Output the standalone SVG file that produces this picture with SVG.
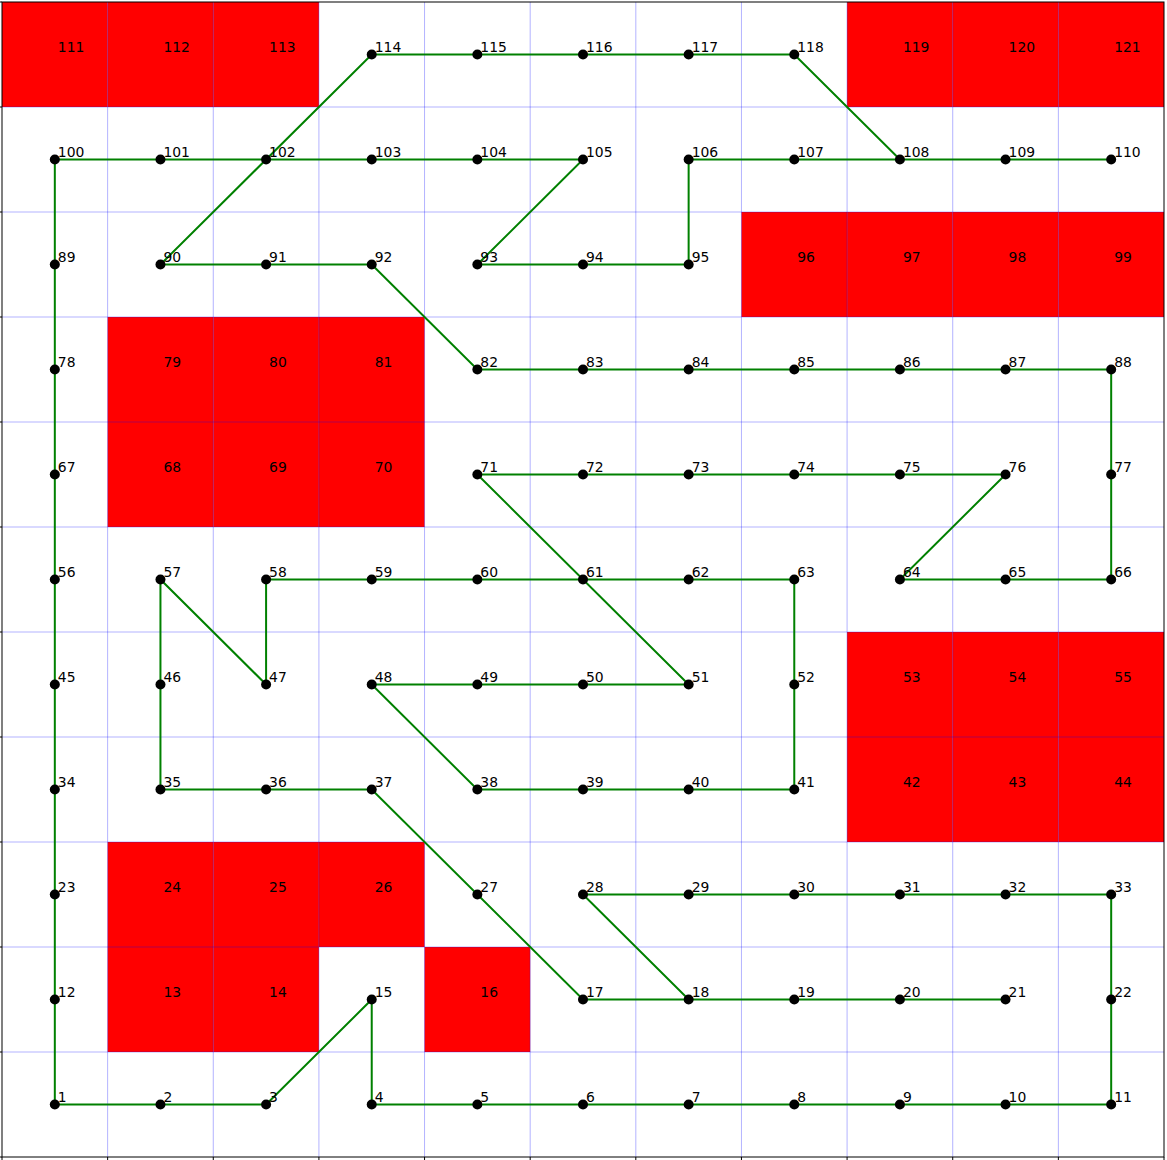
<svg xmlns="http://www.w3.org/2000/svg" width="1167" height="1160" viewBox="0 0 1167 1160">
<style>
.obs{fill:#ff0000;stroke:none}
.grid line{stroke:#0000ff;stroke-opacity:0.3;stroke-width:1}
.edge{fill:none;stroke:#008000;stroke-width:2;stroke-linejoin:miter}
.node circle{fill:#000000}
text{font-family:"DejaVu Sans","Liberation Sans",sans-serif;font-size:13.9px;fill:#000000}
.tick line{stroke:#000;stroke-width:1}
</style>
<rect x="0" y="0" width="1167" height="1160" fill="#ffffff"/>
<g id="obstacles">
<rect class="obs" x="107.64" y="947" width="105.64" height="105"/>
<rect class="obs" x="213.27" y="947" width="105.64" height="105"/>
<rect class="obs" x="424.55" y="947" width="105.64" height="105"/>
<rect class="obs" x="107.64" y="842" width="105.64" height="105"/>
<rect class="obs" x="213.27" y="842" width="105.64" height="105"/>
<rect class="obs" x="318.91" y="842" width="105.64" height="105"/>
<rect class="obs" x="847.09" y="737" width="105.64" height="105"/>
<rect class="obs" x="952.73" y="737" width="105.64" height="105"/>
<rect class="obs" x="1058.36" y="737" width="105.64" height="105"/>
<rect class="obs" x="847.09" y="632" width="105.64" height="105"/>
<rect class="obs" x="952.73" y="632" width="105.64" height="105"/>
<rect class="obs" x="1058.36" y="632" width="105.64" height="105"/>
<rect class="obs" x="107.64" y="422" width="105.64" height="105"/>
<rect class="obs" x="213.27" y="422" width="105.64" height="105"/>
<rect class="obs" x="318.91" y="422" width="105.64" height="105"/>
<rect class="obs" x="107.64" y="317" width="105.64" height="105"/>
<rect class="obs" x="213.27" y="317" width="105.64" height="105"/>
<rect class="obs" x="318.91" y="317" width="105.64" height="105"/>
<rect class="obs" x="741.45" y="212" width="105.64" height="105"/>
<rect class="obs" x="847.09" y="212" width="105.64" height="105"/>
<rect class="obs" x="952.73" y="212" width="105.64" height="105"/>
<rect class="obs" x="1058.36" y="212" width="105.64" height="105"/>
<rect class="obs" x="2" y="2" width="105.64" height="105"/>
<rect class="obs" x="107.64" y="2" width="105.64" height="105"/>
<rect class="obs" x="213.27" y="2" width="105.64" height="105"/>
<rect class="obs" x="847.09" y="2" width="105.64" height="105"/>
<rect class="obs" x="952.73" y="2" width="105.64" height="105"/>
<rect class="obs" x="1058.36" y="2" width="105.64" height="105"/>
</g>
<g class="grid">
<line x1="107.64" y1="2" x2="107.64" y2="1157"/>
<line x1="213.27" y1="2" x2="213.27" y2="1157"/>
<line x1="318.91" y1="2" x2="318.91" y2="1157"/>
<line x1="424.55" y1="2" x2="424.55" y2="1157"/>
<line x1="530.18" y1="2" x2="530.18" y2="1157"/>
<line x1="635.82" y1="2" x2="635.82" y2="1157"/>
<line x1="741.45" y1="2" x2="741.45" y2="1157"/>
<line x1="847.09" y1="2" x2="847.09" y2="1157"/>
<line x1="952.73" y1="2" x2="952.73" y2="1157"/>
<line x1="1058.36" y1="2" x2="1058.36" y2="1157"/>
<line x1="2" y1="107" x2="1164" y2="107"/>
<line x1="2" y1="212" x2="1164" y2="212"/>
<line x1="2" y1="317" x2="1164" y2="317"/>
<line x1="2" y1="422" x2="1164" y2="422"/>
<line x1="2" y1="527" x2="1164" y2="527"/>
<line x1="2" y1="632" x2="1164" y2="632"/>
<line x1="2" y1="737" x2="1164" y2="737"/>
<line x1="2" y1="842" x2="1164" y2="842"/>
<line x1="2" y1="947" x2="1164" y2="947"/>
<line x1="2" y1="1052" x2="1164" y2="1052"/>
</g>
<rect x="2" y="2" width="1162" height="1155" fill="none" stroke="#000" stroke-width="1"/>
<g class="tick">
<line x1="-3" y1="2" x2="2" y2="2"/><line x1="-3" y1="107" x2="2" y2="107"/><line x1="-3" y1="212" x2="2" y2="212"/><line x1="-3" y1="317" x2="2" y2="317"/><line x1="-3" y1="422" x2="2" y2="422"/><line x1="-3" y1="527" x2="2" y2="527"/><line x1="-3" y1="632" x2="2" y2="632"/><line x1="-3" y1="737" x2="2" y2="737"/><line x1="-3" y1="842" x2="2" y2="842"/><line x1="-3" y1="947" x2="2" y2="947"/><line x1="-3" y1="1052" x2="2" y2="1052"/><line x1="-3" y1="1157" x2="2" y2="1157"/>
<line x1="2" y1="1157" x2="2" y2="1162"/><line x1="107.64" y1="1157" x2="107.64" y2="1162"/><line x1="213.27" y1="1157" x2="213.27" y2="1162"/><line x1="318.91" y1="1157" x2="318.91" y2="1162"/><line x1="424.55" y1="1157" x2="424.55" y2="1162"/><line x1="530.18" y1="1157" x2="530.18" y2="1162"/><line x1="635.82" y1="1157" x2="635.82" y2="1162"/><line x1="741.45" y1="1157" x2="741.45" y2="1162"/><line x1="847.09" y1="1157" x2="847.09" y2="1162"/><line x1="952.73" y1="1157" x2="952.73" y2="1162"/><line x1="1058.36" y1="1157" x2="1058.36" y2="1162"/><line x1="1164" y1="1157" x2="1164" y2="1162"/>
</g>
<g id="connectors">
<path class="edge" d="M1111.18,159.5 L688.64,159.5 L688.64,264.5 L477.36,264.5 L583,159.5 L54.82,159.5 L54.82,1104.5 L266.09,1104.5 L371.73,999.5 L371.73,1104.5 L1111.18,1104.5 L1111.18,894.5 L583,894.5 L688.64,999.5 L1005.55,999.5"/>
<path class="edge" d="M899.91,159.5 L794.27,54.5 L371.73,54.5 L160.45,264.5 L371.73,264.5 L477.36,369.5 L1111.18,369.5 L1111.18,579.5 L899.91,579.5 L1005.55,474.5 L477.36,474.5 L688.64,684.5 L371.73,684.5 L477.36,789.5 L794.27,789.5 L794.27,579.5 L266.09,579.5 L266.09,684.5 L160.45,579.5 L160.45,789.5 L371.73,789.5 L583,999.5 L688.64,999.5"/>
</g>
<g id="nodes">
<g id="n1" class="node"><circle cx="54.82" cy="1104.5" r="5"/><text x="57.82" y="1101.5">1</text></g>
<g id="n2" class="node"><circle cx="160.45" cy="1104.5" r="5"/><text x="163.45" y="1101.5">2</text></g>
<g id="n3" class="node"><circle cx="266.09" cy="1104.5" r="5"/><text x="269.09" y="1101.5">3</text></g>
<g id="n4" class="node"><circle cx="371.73" cy="1104.5" r="5"/><text x="374.73" y="1101.5">4</text></g>
<g id="n5" class="node"><circle cx="477.36" cy="1104.5" r="5"/><text x="480.36" y="1101.5">5</text></g>
<g id="n6" class="node"><circle cx="583" cy="1104.5" r="5"/><text x="586" y="1101.5">6</text></g>
<g id="n7" class="node"><circle cx="688.64" cy="1104.5" r="5"/><text x="691.64" y="1101.5">7</text></g>
<g id="n8" class="node"><circle cx="794.27" cy="1104.5" r="5"/><text x="797.27" y="1101.5">8</text></g>
<g id="n9" class="node"><circle cx="899.91" cy="1104.5" r="5"/><text x="902.91" y="1101.5">9</text></g>
<g id="n10" class="node"><circle cx="1005.55" cy="1104.5" r="5"/><text x="1008.55" y="1101.5">10</text></g>
<g id="n11" class="node"><circle cx="1111.18" cy="1104.5" r="5"/><text x="1114.18" y="1101.5">11</text></g>
<g id="n12" class="node"><circle cx="54.82" cy="999.5" r="5"/><text x="57.82" y="996.5">12</text></g>
<g id="n13" class="node"><text x="163.45" y="996.5">13</text></g>
<g id="n14" class="node"><text x="269.09" y="996.5">14</text></g>
<g id="n15" class="node"><circle cx="371.73" cy="999.5" r="5"/><text x="374.73" y="996.5">15</text></g>
<g id="n16" class="node"><text x="480.36" y="996.5">16</text></g>
<g id="n17" class="node"><circle cx="583" cy="999.5" r="5"/><text x="586" y="996.5">17</text></g>
<g id="n18" class="node"><circle cx="688.64" cy="999.5" r="5"/><text x="691.64" y="996.5">18</text></g>
<g id="n19" class="node"><circle cx="794.27" cy="999.5" r="5"/><text x="797.27" y="996.5">19</text></g>
<g id="n20" class="node"><circle cx="899.91" cy="999.5" r="5"/><text x="902.91" y="996.5">20</text></g>
<g id="n21" class="node"><circle cx="1005.55" cy="999.5" r="5"/><text x="1008.55" y="996.5">21</text></g>
<g id="n22" class="node"><circle cx="1111.18" cy="999.5" r="5"/><text x="1114.18" y="996.5">22</text></g>
<g id="n23" class="node"><circle cx="54.82" cy="894.5" r="5"/><text x="57.82" y="891.5">23</text></g>
<g id="n24" class="node"><text x="163.45" y="891.5">24</text></g>
<g id="n25" class="node"><text x="269.09" y="891.5">25</text></g>
<g id="n26" class="node"><text x="374.73" y="891.5">26</text></g>
<g id="n27" class="node"><circle cx="477.36" cy="894.5" r="5"/><text x="480.36" y="891.5">27</text></g>
<g id="n28" class="node"><circle cx="583" cy="894.5" r="5"/><text x="586" y="891.5">28</text></g>
<g id="n29" class="node"><circle cx="688.64" cy="894.5" r="5"/><text x="691.64" y="891.5">29</text></g>
<g id="n30" class="node"><circle cx="794.27" cy="894.5" r="5"/><text x="797.27" y="891.5">30</text></g>
<g id="n31" class="node"><circle cx="899.91" cy="894.5" r="5"/><text x="902.91" y="891.5">31</text></g>
<g id="n32" class="node"><circle cx="1005.55" cy="894.5" r="5"/><text x="1008.55" y="891.5">32</text></g>
<g id="n33" class="node"><circle cx="1111.18" cy="894.5" r="5"/><text x="1114.18" y="891.5">33</text></g>
<g id="n34" class="node"><circle cx="54.82" cy="789.5" r="5"/><text x="57.82" y="786.5">34</text></g>
<g id="n35" class="node"><circle cx="160.45" cy="789.5" r="5"/><text x="163.45" y="786.5">35</text></g>
<g id="n36" class="node"><circle cx="266.09" cy="789.5" r="5"/><text x="269.09" y="786.5">36</text></g>
<g id="n37" class="node"><circle cx="371.73" cy="789.5" r="5"/><text x="374.73" y="786.5">37</text></g>
<g id="n38" class="node"><circle cx="477.36" cy="789.5" r="5"/><text x="480.36" y="786.5">38</text></g>
<g id="n39" class="node"><circle cx="583" cy="789.5" r="5"/><text x="586" y="786.5">39</text></g>
<g id="n40" class="node"><circle cx="688.64" cy="789.5" r="5"/><text x="691.64" y="786.5">40</text></g>
<g id="n41" class="node"><circle cx="794.27" cy="789.5" r="5"/><text x="797.27" y="786.5">41</text></g>
<g id="n42" class="node"><text x="902.91" y="786.5">42</text></g>
<g id="n43" class="node"><text x="1008.55" y="786.5">43</text></g>
<g id="n44" class="node"><text x="1114.18" y="786.5">44</text></g>
<g id="n45" class="node"><circle cx="54.82" cy="684.5" r="5"/><text x="57.82" y="681.5">45</text></g>
<g id="n46" class="node"><circle cx="160.45" cy="684.5" r="5"/><text x="163.45" y="681.5">46</text></g>
<g id="n47" class="node"><circle cx="266.09" cy="684.5" r="5"/><text x="269.09" y="681.5">47</text></g>
<g id="n48" class="node"><circle cx="371.73" cy="684.5" r="5"/><text x="374.73" y="681.5">48</text></g>
<g id="n49" class="node"><circle cx="477.36" cy="684.5" r="5"/><text x="480.36" y="681.5">49</text></g>
<g id="n50" class="node"><circle cx="583" cy="684.5" r="5"/><text x="586" y="681.5">50</text></g>
<g id="n51" class="node"><circle cx="688.64" cy="684.5" r="5"/><text x="691.64" y="681.5">51</text></g>
<g id="n52" class="node"><circle cx="794.27" cy="684.5" r="5"/><text x="797.27" y="681.5">52</text></g>
<g id="n53" class="node"><text x="902.91" y="681.5">53</text></g>
<g id="n54" class="node"><text x="1008.55" y="681.5">54</text></g>
<g id="n55" class="node"><text x="1114.18" y="681.5">55</text></g>
<g id="n56" class="node"><circle cx="54.82" cy="579.5" r="5"/><text x="57.82" y="576.5">56</text></g>
<g id="n57" class="node"><circle cx="160.45" cy="579.5" r="5"/><text x="163.45" y="576.5">57</text></g>
<g id="n58" class="node"><circle cx="266.09" cy="579.5" r="5"/><text x="269.09" y="576.5">58</text></g>
<g id="n59" class="node"><circle cx="371.73" cy="579.5" r="5"/><text x="374.73" y="576.5">59</text></g>
<g id="n60" class="node"><circle cx="477.36" cy="579.5" r="5"/><text x="480.36" y="576.5">60</text></g>
<g id="n61" class="node"><circle cx="583" cy="579.5" r="5"/><text x="586" y="576.5">61</text></g>
<g id="n62" class="node"><circle cx="688.64" cy="579.5" r="5"/><text x="691.64" y="576.5">62</text></g>
<g id="n63" class="node"><circle cx="794.27" cy="579.5" r="5"/><text x="797.27" y="576.5">63</text></g>
<g id="n64" class="node"><circle cx="899.91" cy="579.5" r="5"/><text x="902.91" y="576.5">64</text></g>
<g id="n65" class="node"><circle cx="1005.55" cy="579.5" r="5"/><text x="1008.55" y="576.5">65</text></g>
<g id="n66" class="node"><circle cx="1111.18" cy="579.5" r="5"/><text x="1114.18" y="576.5">66</text></g>
<g id="n67" class="node"><circle cx="54.82" cy="474.5" r="5"/><text x="57.82" y="471.5">67</text></g>
<g id="n68" class="node"><text x="163.45" y="471.5">68</text></g>
<g id="n69" class="node"><text x="269.09" y="471.5">69</text></g>
<g id="n70" class="node"><text x="374.73" y="471.5">70</text></g>
<g id="n71" class="node"><circle cx="477.36" cy="474.5" r="5"/><text x="480.36" y="471.5">71</text></g>
<g id="n72" class="node"><circle cx="583" cy="474.5" r="5"/><text x="586" y="471.5">72</text></g>
<g id="n73" class="node"><circle cx="688.64" cy="474.5" r="5"/><text x="691.64" y="471.5">73</text></g>
<g id="n74" class="node"><circle cx="794.27" cy="474.5" r="5"/><text x="797.27" y="471.5">74</text></g>
<g id="n75" class="node"><circle cx="899.91" cy="474.5" r="5"/><text x="902.91" y="471.5">75</text></g>
<g id="n76" class="node"><circle cx="1005.55" cy="474.5" r="5"/><text x="1008.55" y="471.5">76</text></g>
<g id="n77" class="node"><circle cx="1111.18" cy="474.5" r="5"/><text x="1114.18" y="471.5">77</text></g>
<g id="n78" class="node"><circle cx="54.82" cy="369.5" r="5"/><text x="57.82" y="366.5">78</text></g>
<g id="n79" class="node"><text x="163.45" y="366.5">79</text></g>
<g id="n80" class="node"><text x="269.09" y="366.5">80</text></g>
<g id="n81" class="node"><text x="374.73" y="366.5">81</text></g>
<g id="n82" class="node"><circle cx="477.36" cy="369.5" r="5"/><text x="480.36" y="366.5">82</text></g>
<g id="n83" class="node"><circle cx="583" cy="369.5" r="5"/><text x="586" y="366.5">83</text></g>
<g id="n84" class="node"><circle cx="688.64" cy="369.5" r="5"/><text x="691.64" y="366.5">84</text></g>
<g id="n85" class="node"><circle cx="794.27" cy="369.5" r="5"/><text x="797.27" y="366.5">85</text></g>
<g id="n86" class="node"><circle cx="899.91" cy="369.5" r="5"/><text x="902.91" y="366.5">86</text></g>
<g id="n87" class="node"><circle cx="1005.55" cy="369.5" r="5"/><text x="1008.55" y="366.5">87</text></g>
<g id="n88" class="node"><circle cx="1111.18" cy="369.5" r="5"/><text x="1114.18" y="366.5">88</text></g>
<g id="n89" class="node"><circle cx="54.82" cy="264.5" r="5"/><text x="57.82" y="261.5">89</text></g>
<g id="n90" class="node"><circle cx="160.45" cy="264.5" r="5"/><text x="163.45" y="261.5">90</text></g>
<g id="n91" class="node"><circle cx="266.09" cy="264.5" r="5"/><text x="269.09" y="261.5">91</text></g>
<g id="n92" class="node"><circle cx="371.73" cy="264.5" r="5"/><text x="374.73" y="261.5">92</text></g>
<g id="n93" class="node"><circle cx="477.36" cy="264.5" r="5"/><text x="480.36" y="261.5">93</text></g>
<g id="n94" class="node"><circle cx="583" cy="264.5" r="5"/><text x="586" y="261.5">94</text></g>
<g id="n95" class="node"><circle cx="688.64" cy="264.5" r="5"/><text x="691.64" y="261.5">95</text></g>
<g id="n96" class="node"><text x="797.27" y="261.5">96</text></g>
<g id="n97" class="node"><text x="902.91" y="261.5">97</text></g>
<g id="n98" class="node"><text x="1008.55" y="261.5">98</text></g>
<g id="n99" class="node"><text x="1114.18" y="261.5">99</text></g>
<g id="n100" class="node"><circle cx="54.82" cy="159.5" r="5"/><text x="57.82" y="156.5">100</text></g>
<g id="n101" class="node"><circle cx="160.45" cy="159.5" r="5"/><text x="163.45" y="156.5">101</text></g>
<g id="n102" class="node"><circle cx="266.09" cy="159.5" r="5"/><text x="269.09" y="156.5">102</text></g>
<g id="n103" class="node"><circle cx="371.73" cy="159.5" r="5"/><text x="374.73" y="156.5">103</text></g>
<g id="n104" class="node"><circle cx="477.36" cy="159.5" r="5"/><text x="480.36" y="156.5">104</text></g>
<g id="n105" class="node"><circle cx="583" cy="159.5" r="5"/><text x="586" y="156.5">105</text></g>
<g id="n106" class="node"><circle cx="688.64" cy="159.5" r="5"/><text x="691.64" y="156.5">106</text></g>
<g id="n107" class="node"><circle cx="794.27" cy="159.5" r="5"/><text x="797.27" y="156.5">107</text></g>
<g id="n108" class="node"><circle cx="899.91" cy="159.5" r="5"/><text x="902.91" y="156.5">108</text></g>
<g id="n109" class="node"><circle cx="1005.55" cy="159.5" r="5"/><text x="1008.55" y="156.5">109</text></g>
<g id="n110" class="node"><circle cx="1111.18" cy="159.5" r="5"/><text x="1114.18" y="156.5">110</text></g>
<g id="n111" class="node"><text x="57.82" y="51.5">111</text></g>
<g id="n112" class="node"><text x="163.45" y="51.5">112</text></g>
<g id="n113" class="node"><text x="269.09" y="51.5">113</text></g>
<g id="n114" class="node"><circle cx="371.73" cy="54.5" r="5"/><text x="374.73" y="51.5">114</text></g>
<g id="n115" class="node"><circle cx="477.36" cy="54.5" r="5"/><text x="480.36" y="51.5">115</text></g>
<g id="n116" class="node"><circle cx="583" cy="54.5" r="5"/><text x="586" y="51.5">116</text></g>
<g id="n117" class="node"><circle cx="688.64" cy="54.5" r="5"/><text x="691.64" y="51.5">117</text></g>
<g id="n118" class="node"><circle cx="794.27" cy="54.5" r="5"/><text x="797.27" y="51.5">118</text></g>
<g id="n119" class="node"><text x="902.91" y="51.5">119</text></g>
<g id="n120" class="node"><text x="1008.55" y="51.5">120</text></g>
<g id="n121" class="node"><text x="1114.18" y="51.5">121</text></g>
</g>
</svg>
